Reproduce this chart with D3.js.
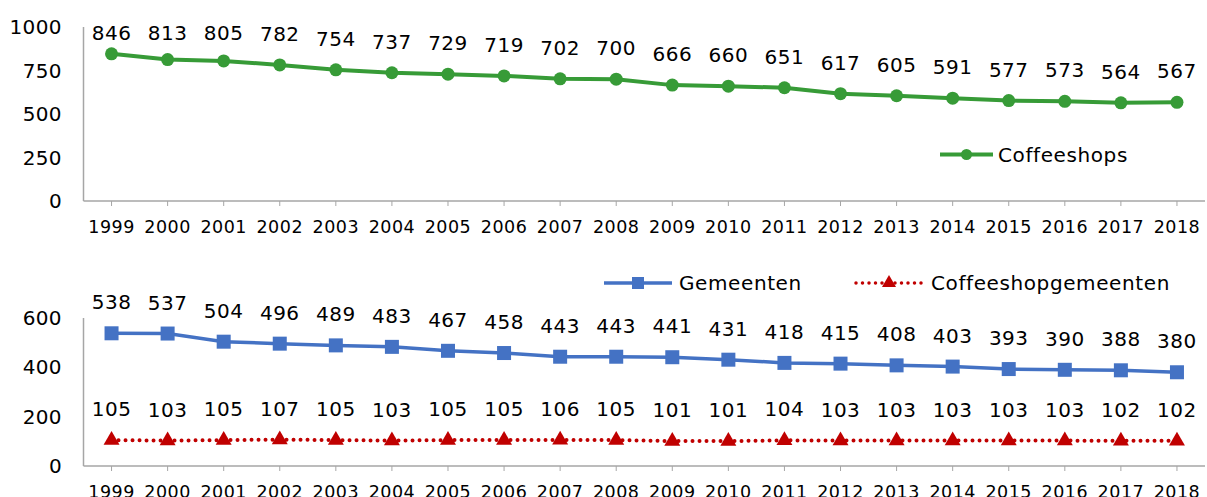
<!DOCTYPE html>
<html>
<head>
<meta charset="utf-8">
<script src="https://cdn.jsdelivr.net/npm/d3@7"></script>
<style>
  body { margin: 0; background: #fff; }
  text { font-family: "DejaVu Sans", Verdana, sans-serif; fill: #000; }
</style>
</head>
<body>
<div id="chart"></div>
<script>
'use strict';

// data
var years = ['1999','2000','2001','2002','2003','2004','2005','2006','2007','2008',
             '2009','2010','2011','2012','2013','2014','2015','2016','2017','2018'];
var coffeeshops = [846,813,805,782,754,737,729,719,702,700,666,660,651,617,605,591,577,573,564,567];
var gemeenten = [538,537,504,496,489,483,467,458,443,443,441,431,418,415,408,403,393,390,388,380];
var coffeeshopgemeenten = [105,103,105,107,105,103,105,105,106,105,101,101,104,103,103,103,103,103,102,102];
var topTicks = [0,250,500,750,1000];
var bottomTicks = [0,200,400,600];

var green = '#379b37', blue = '#4472c4', red = '#c00000', axisColor = '#a6a6a6';

var W = 1207, H = 497;
var svg = d3.select('#chart').append('svg')
    .attr('width', W).attr('height', H);

var x = d3.scalePoint().domain(years).range([83.5, 1205]).padding(0.5);

function panel(yScale, ticks, yTop) {
    var g = svg.append('g');
    var y0 = yScale(0);
    // x axis line
    g.append('line')
        .attr('x1', 83.5).attr('x2', 1205)
        .attr('y1', y0).attr('y2', y0)
        .attr('stroke', axisColor).attr('stroke-width', 1.5);
    // y axis line
    g.append('line')
        .attr('x1', 83.5).attr('x2', 83.5)
        .attr('y1', yTop).attr('y2', y0)
        .attr('stroke', axisColor).attr('stroke-width', 1.5);
    // category ticks
    g.selectAll('.xt').data(years).enter().append('line')
        .attr('x1', function(d){ return x(d); })
        .attr('x2', function(d){ return x(d); })
        .attr('y1', y0).attr('y2', y0 + 5)
        .attr('stroke', axisColor).attr('stroke-width', 1);
    // year labels
    g.selectAll('.xl').data(years).enter().append('text')
        .attr('x', function(d){ return x(d); })
        .attr('y', y0 + 25.5)
        .attr('text-anchor', 'middle')
        .attr('dominant-baseline', 'central')
        .style('font-size', '17.5px')
        .style('letter-spacing', '0.5px')
        .text(function(d){ return d; });
    // y labels
    g.selectAll('.yl').data(ticks).enter().append('text')
        .attr('x', 62)
        .attr('y', function(d){ return yScale(d); })
        .attr('text-anchor', 'end')
        .attr('dominant-baseline', 'central')
        .style('font-size', '20px')
        .style('letter-spacing', '0.4px')
        .text(function(d){ return d; });
    return g;
}

function valueLabels(g, values, yScale, minY) {
    g.selectAll(null).data(values).enter().append('text')
        .attr('x', function(d, i){ return x(years[i]); })
        .attr('y', function(d){ return Math.max(minY, yScale(d) - 31); })
        .attr('text-anchor', 'middle')
        .attr('dominant-baseline', 'central')
        .style('font-size', '20px')
        .style('letter-spacing', '0.5px')
        .text(function(d){ return d; });
}

/******** top panel ********/
var yTop = d3.scaleLinear().domain([0, 1000]).range([201, 27]);
var gTop = panel(yTop, topTicks, 27);

var lineTop = d3.line()
    .x(function(d, i){ return x(years[i]); })
    .y(function(d){ return yTop(d); });

gTop.append('path').datum(coffeeshops)
    .attr('d', lineTop)
    .attr('fill', 'none').attr('stroke', green).attr('stroke-width', 4);
gTop.selectAll('.dot').data(coffeeshops).enter().append('circle')
    .attr('cx', function(d, i){ return x(years[i]); })
    .attr('cy', function(d){ return yTop(d); })
    .attr('r', 6.5).attr('fill', green);
valueLabels(gTop, coffeeshops, yTop, 33);

// legend top
gTop.append('line').attr('x1', 940).attr('x2', 993).attr('y1', 154.5).attr('y2', 154.5)
    .attr('stroke', green).attr('stroke-width', 4);
gTop.append('circle').attr('cx', 966.5).attr('cy', 154.5).attr('r', 5.5).attr('fill', green);
gTop.append('text').attr('x', 998).attr('y', 154.5)
    .attr('dominant-baseline', 'central').style('font-size', '20px')
    .style('letter-spacing', '0.6px').text('Coffeeshops');

/******** bottom panel ********/
var yBot = d3.scaleLinear().domain([0, 600]).range([466, 318]);
var gBot = panel(yBot, bottomTicks, 318);

var lineBot = d3.line()
    .x(function(d, i){ return x(years[i]); })
    .y(function(d){ return yBot(d); });

gBot.append('path').datum(gemeenten)
    .attr('d', lineBot)
    .attr('fill', 'none').attr('stroke', blue).attr('stroke-width', 3.5);
gBot.selectAll('.sq').data(gemeenten).enter().append('rect')
    .attr('x', function(d, i){ return x(years[i]) - 7; })
    .attr('y', function(d){ return yBot(d) - 7; })
    .attr('width', 14).attr('height', 14).attr('fill', blue);
valueLabels(gBot, gemeenten, yBot, 300);

gBot.append('path').datum(coffeeshopgemeenten)
    .attr('d', lineBot)
    .attr('fill', 'none').attr('stroke', red).attr('stroke-width', 4)
    .attr('stroke-dasharray', '0,7').attr('stroke-linecap', 'round');
var tri = d3.symbol().type(d3.symbolTriangle).size(110);
gBot.selectAll('.tri').data(coffeeshopgemeenten).enter().append('path')
    .attr('d', tri)
    .attr('transform', function(d, i){ return 'translate(' + x(years[i]) + ',' + yBot(d) + ')'; })
    .attr('fill', red);
valueLabels(gBot, coffeeshopgemeenten, yBot, 300);

// legend bottom
gBot.append('line').attr('x1', 604).attr('x2', 672).attr('y1', 283).attr('y2', 283)
    .attr('stroke', blue).attr('stroke-width', 3.5);
gBot.append('rect').attr('x', 632).attr('y', 277).attr('width', 12).attr('height', 12).attr('fill', blue);
gBot.append('text').attr('x', 679).attr('y', 283)
    .attr('dominant-baseline', 'central').style('font-size', '20px')
    .style('letter-spacing', '0.6px').text('Gemeenten');

gBot.append('line').attr('x1', 856).attr('x2', 922).attr('y1', 283).attr('y2', 283)
    .attr('stroke', red).attr('stroke-width', 3.5)
    .attr('stroke-dasharray', '0,6.5').attr('stroke-linecap', 'round');
gBot.append('path').attr('d', d3.symbol().type(d3.symbolTriangle).size(85))
    .attr('transform', 'translate(889,283)').attr('fill', red);
gBot.append('text').attr('x', 931).attr('y', 283)
    .attr('dominant-baseline', 'central').style('font-size', '20px')
    .style('letter-spacing', '0.6px').text('Coffeeshopgemeenten');
</script>
</body>
</html>
